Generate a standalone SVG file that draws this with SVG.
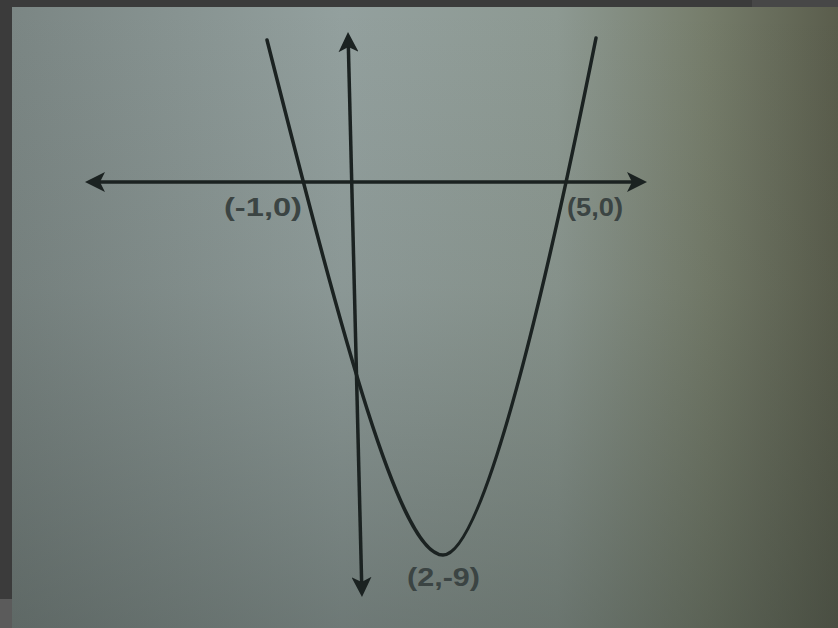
<svg xmlns="http://www.w3.org/2000/svg" width="838" height="628" viewBox="0 0 838 628">
  <defs>
    <linearGradient id="bgH" x1="0" y1="0" x2="1" y2="0">
      <stop offset="0" stop-color="#7b8684"/>
      <stop offset="0.4" stop-color="#93a09e"/>
      <stop offset="0.66" stop-color="#8d9992"/>
      <stop offset="0.84" stop-color="#767d6b"/>
      <stop offset="1" stop-color="#5a5d4c"/>
    </linearGradient>
    <linearGradient id="bgV" x1="0" y1="0" x2="0" y2="1">
      <stop offset="0" stop-color="#2c3430" stop-opacity="0"/>
      <stop offset="0.45" stop-color="#2c3430" stop-opacity="0.08"/>
      <stop offset="1" stop-color="#2c3430" stop-opacity="0.36"/>
    </linearGradient>
    <marker id="arrow" viewBox="0 0 20 20" refX="12" refY="10" markerWidth="20" markerHeight="20" markerUnits="userSpaceOnUse" orient="auto-start-reverse">
      <path d="M0,0 L20,10 L0,20 L5,10 Z" fill="#1b2221"/>
    </marker>
    <style>
      .axis { stroke: #1b2221; stroke-width: 3.5; fill: none; }
      .curve { stroke: #1b2221; stroke-width: 3.5; fill: none; stroke-linecap: round; }
      .lbl { font-family: "Liberation Sans", Arial, sans-serif; font-weight: bold; font-size: 25px; fill: #3b4443; }
    </style>
  </defs>

  <rect x="0" y="0" width="838" height="628" fill="#3b3b3b"/>
  <rect x="752" y="0" width="86" height="7" fill="#474747"/>
  <rect x="0" y="599" width="12" height="29" fill="#5b5b5b"/>
  <rect x="12" y="7" width="826" height="621" fill="url(#bgH)"/>
  <rect x="12" y="7" width="826" height="621" fill="url(#bgV)"/>

  <g id="connectors">
    <line id="x-axis" class="axis" x1="93" y1="182" x2="639" y2="182" marker-start="url(#arrow)" marker-end="url(#arrow)"/>
    <line id="y-axis" class="axis" x1="348.2" y1="40" x2="361.8" y2="589" marker-start="url(#arrow)" marker-end="url(#arrow)"/>
  </g>

  <g id="parabola">
    <path class="curve" d="M267,40 C343,340 400,555 443,555 C480,555 536,338 596,38"/>
  </g>

  <g id="label-neg1-0">
    <text class="lbl" x="224" y="216" textLength="78" lengthAdjust="spacingAndGlyphs">(-1,0)</text>
  </g>
  <g id="label-5-0">
    <text class="lbl" x="567" y="216" textLength="56" lengthAdjust="spacingAndGlyphs">(5,0)</text>
  </g>
  <g id="label-2-neg9">
    <text class="lbl" x="407" y="586" textLength="73" lengthAdjust="spacingAndGlyphs">(2,-9)</text>
  </g>
</svg>
